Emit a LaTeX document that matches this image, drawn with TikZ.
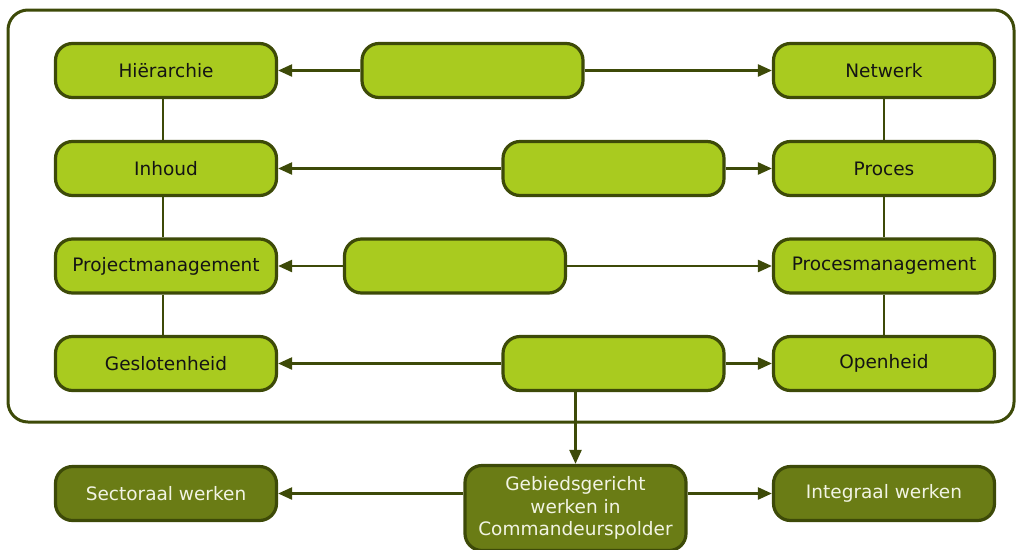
\documentclass[tikz,border=0pt]{standalone}
\usepackage{fontspec}
\setmainfont{DejaVu Sans}
\usetikzlibrary{arrows.meta}
\definecolor{leaf}{HTML}{A9CB1F}
\definecolor{olive}{HTML}{6A7C15}
\definecolor{rim}{HTML}{3D4A08}
\definecolor{pale}{HTML}{F2F4E4}
\definecolor{ink}{HTML}{141414}
\tikzset{
  box/.style={draw=rim, line width=3.2pt, fill=leaf, rounded corners=17pt,
    minimum width=221pt, minimum height=54pt, inner sep=0pt,
    font=\fontsize{18.5}{22.5}\selectfont, text=ink},
  darkbox/.style={box, fill=olive, text=pale, align=center},
  link/.style={draw=rim, line width=2.2pt},
  arr/.style={link, line width=2.4pt, -{Triangle[length=14pt,width=12pt]}}
}
\begin{document}
\begin{tikzpicture}[x=1pt,y=-1pt]
\useasboundingbox (0,0) rectangle (1016,549);
% outer frame
\draw[rim, line width=3pt, rounded corners=20pt] (8,10) rectangle (1014,422);
% left column
\node[box] (hier) at (166,70.5) {Hiërarchie};
\node[box] (inh) at (166,168.5) {Inhoud};
\node[box] (pm) at (166,266) {Projectmanagement};
\node[box] (gesl) at (166,363.5) {Geslotenheid};
% right column
\node[box] (netw) at (884,70.5) {Netwerk};
\node[box] (proc) at (884,168.5) {Proces};
\node[box] (procm) at (884,266) {Procesmanagement};
\node[box] (open) at (884,363.5) {Openheid};
% middle boxes
\node[box] (m1) at (472.5,70.5) {};
\node[box] (m2) at (613.5,168.5) {};
\node[box] (m3) at (455,266) {};
\node[box] (m4) at (613.5,363.5) {};
% bottom row
\node[darkbox] (sect) at (166,493.5) {Sectoraal werken};
\node[darkbox, minimum height=85pt] (geb) at (575.5,508) {Gebiedsgericht\\werken in\\Commandeurspolder};
\node[darkbox] (integ) at (884,493.5) {Integraal werken};
% column links
\draw[link] ([xshift=-3pt]hier.south) -- ([xshift=-3pt]inh.north);
\draw[link] ([xshift=-3pt]inh.south) -- ([xshift=-3pt]pm.north);
\draw[link] ([xshift=-3pt]pm.south) -- ([xshift=-3pt]gesl.north);
\draw[link] (netw.south) -- (proc.north);
\draw[link] (proc.south) -- (procm.north);
\draw[link] (procm.south) -- (open.north);
% row arrows
\draw[arr] (m1.west) -- (hier.east);
\draw[arr] (m1.east) -- (netw.west);
\draw[arr] (m2.west) -- (inh.east);
\draw[arr] (m2.east) -- (proc.west);
\draw[arr] (m3.west) -- (pm.east);
\draw[arr] (m3.east) -- (procm.west);
\draw[arr] (m4.west) -- (gesl.east);
\draw[arr] (m4.east) -- (open.west);
% down to the bottom row
\draw[arr] (m4.south -| geb.north) -- (geb.north);
\draw[arr] (geb.west |- sect.east) -- (sect.east);
\draw[arr] (geb.east |- integ.west) -- (integ.west);
\end{tikzpicture}
\end{document}
